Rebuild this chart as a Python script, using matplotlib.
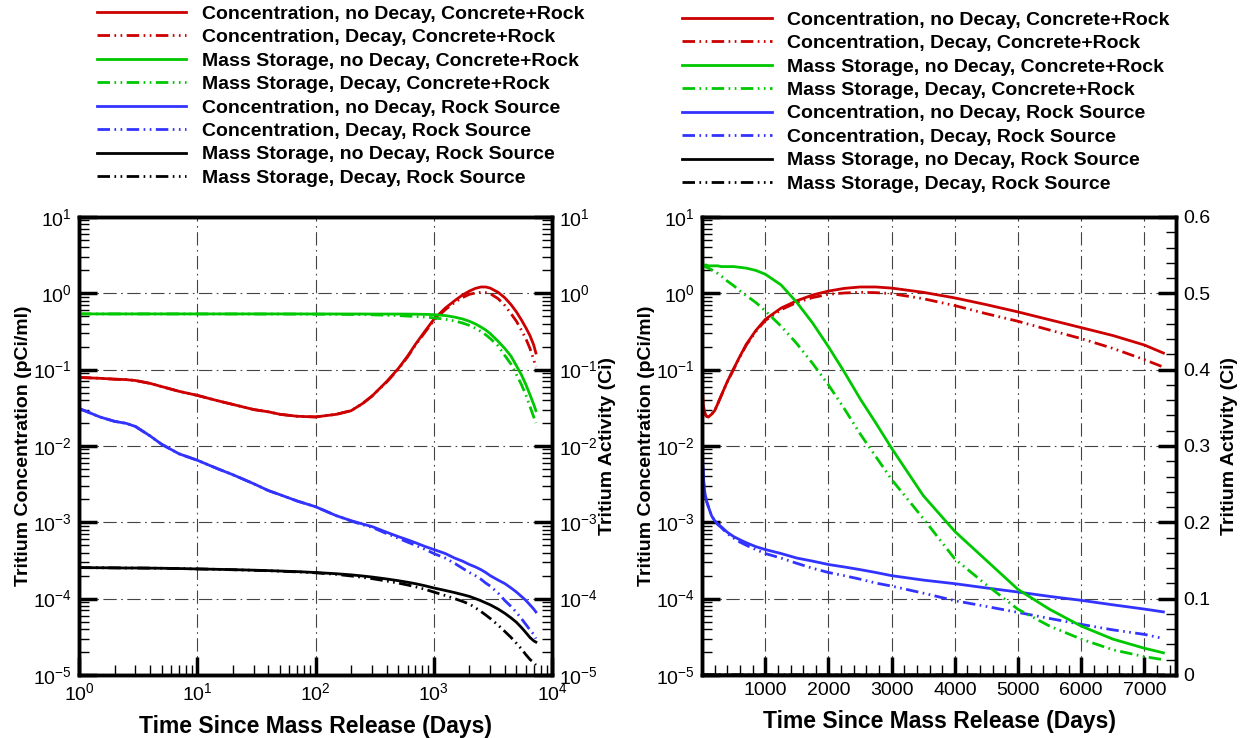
import numpy as np
import matplotlib.pyplot as plt
from matplotlib.lines import Line2D
from matplotlib.ticker import MultipleLocator, FixedLocator, NullFormatter

plt.rcParams['font.family'] = ['Liberation Sans', 'DejaVu Sans']
plt.rcParams['mathtext.fontset'] = 'custom'
plt.rcParams['mathtext.rm'] = 'Liberation Sans'
plt.rcParams['mathtext.default'] = 'regular'

# time since mass release (days)
days = [1, 1.5, 2, 2.5, 3, 4, 5, 7, 10, 15, 20, 30, 40, 50, 70, 100, 150, 200, 250, 300,
        400, 500, 600, 700, 850, 1000, 1250, 1500, 1750, 2000, 2250, 2500, 2750, 3000,
        3500, 4000, 4500, 5000, 5500, 6000, 6500, 7000, 7300]

# concentration, concrete+rock source (pCi/ml)
conc_nodecay_cr = [0.079, 0.077, 0.075, 0.074, 0.072, 0.066, 0.060, 0.052, 0.046, 0.039, 0.035,
                   0.030, 0.028, 0.026, 0.0245, 0.024, 0.026, 0.029, 0.036, 0.045,
                   0.07, 0.103, 0.15, 0.215, 0.325, 0.455, 0.64, 0.80, 0.95, 1.07, 1.16, 1.21,
                   1.21, 1.17, 1.03, 0.87, 0.71, 0.57, 0.45, 0.355, 0.28, 0.21, 0.165]
conc_decay_cr = [0.079, 0.077, 0.075, 0.074, 0.072, 0.066, 0.060, 0.052, 0.046, 0.039, 0.035,
                 0.030, 0.028, 0.026, 0.0245, 0.024, 0.026, 0.029, 0.036, 0.045,
                 0.069, 0.101, 0.147, 0.21, 0.315, 0.44, 0.61, 0.76, 0.88, 0.97, 1.01, 1.03,
                 1.02, 0.99, 0.85, 0.69, 0.54, 0.43, 0.33, 0.255, 0.19, 0.135, 0.108]

# mass storage, concrete+rock source (Ci)
mass_nodecay_cr = [0.537, 0.537, 0.537, 0.537, 0.537, 0.537, 0.537, 0.537, 0.537, 0.537, 0.537,
                   0.537, 0.537, 0.537, 0.537, 0.536, 0.536, 0.536, 0.536, 0.535,
                   0.535, 0.535, 0.534, 0.533, 0.530, 0.525, 0.511, 0.488, 0.461, 0.43, 0.397,
                   0.362, 0.33, 0.297, 0.235, 0.188, 0.15, 0.112, 0.086, 0.064, 0.047, 0.035,
                   0.029]
mass_decay_cr = [0.537, 0.537, 0.537, 0.537, 0.537, 0.537, 0.537, 0.537, 0.537, 0.536, 0.536,
                 0.536, 0.535, 0.535, 0.534, 0.533, 0.531, 0.528, 0.526, 0.523,
                 0.516, 0.51, 0.503, 0.497, 0.488, 0.477, 0.457, 0.434, 0.408, 0.38, 0.349,
                 0.316, 0.286, 0.256, 0.205, 0.152, 0.118, 0.086, 0.064, 0.047, 0.033, 0.024,
                 0.02]

# concentration, rock source (pCi/ml)
conc_nodecay_rock = [0.031, 0.024, 0.021, 0.0198, 0.018, 0.0135, 0.0105, 0.0079, 0.0065, 0.005,
                     0.0042, 0.0032, 0.0026, 0.0023, 0.0019, 0.0016, 0.00122, 0.00105, 0.00095,
                     0.00088, 0.00074, 0.00065, 0.00059, 0.00054, 0.00048, 0.00044, 0.00039,
                     0.00034, 0.00031, 0.00028, 0.00026, 0.00024, 0.00022, 0.0002, 0.000175,
                     0.000157, 0.000138, 0.000122, 0.000107, 0.000095, 0.000083, 0.000073,
                     0.000067]
conc_decay_rock = [0.031, 0.024, 0.021, 0.0198, 0.018, 0.0135, 0.0105, 0.0079, 0.0065, 0.005,
                   0.0042, 0.0032, 0.0026, 0.0023, 0.0019, 0.0016, 0.00122, 0.00104, 0.00093,
                   0.00086, 0.00071, 0.00062, 0.00055, 0.0005, 0.00044, 0.00039, 0.00034,
                   0.00029, 0.00025, 0.00022, 0.0002, 0.00018, 0.00016, 0.000146, 0.000118,
                   0.000094, 0.000079, 0.000066, 0.000055, 0.000046, 0.000039, 0.000034,
                   0.00003]

# mass storage, rock source (Ci)
mass_nodecay_rock = [2.55e-4, 2.54e-4, 2.53e-4, 2.52e-4, 2.52e-4, 2.51e-4, 2.5e-4, 2.48e-4,
                     2.45e-4, 2.42e-4, 2.4e-4, 2.36e-4, 2.33e-4, 2.3e-4, 2.26e-4, 2.2e-4,
                     2.12e-4, 2.05e-4, 1.98e-4, 1.92e-4, 1.81e-4, 1.72e-4, 1.64e-4, 1.57e-4,
                     1.47e-4, 1.38e-4, 1.28e-4, 1.2e-4, 1.13e-4, 1.07e-4, 1.0e-4, 9.4e-5,
                     8.8e-5, 8.3e-5, 7.3e-5, 6.4e-5, 5.6e-5, 4.9e-5, 4.2e-5, 3.6e-5, 3.1e-5,
                     2.8e-5, 2.7e-5]
mass_decay_rock = [2.55e-4, 2.54e-4, 2.53e-4, 2.52e-4, 2.52e-4, 2.51e-4, 2.5e-4, 2.48e-4,
                   2.45e-4, 2.42e-4, 2.39e-4, 2.35e-4, 2.32e-4, 2.29e-4, 2.24e-4, 2.18e-4,
                   2.08e-4, 1.98e-4, 1.9e-4, 1.83e-4, 1.7e-4, 1.6e-4, 1.51e-4, 1.43e-4,
                   1.32e-4, 1.22e-4, 1.1e-4, 1.0e-4, 9.2e-5, 8.5e-5, 7.6e-5, 6.8e-5, 6.1e-5,
                   5.5e-5, 4.5e-5, 3.7e-5, 3.1e-5, 2.6e-5, 2.2e-5, 1.85e-5, 1.6e-5, 1.45e-5,
                   1.35e-5]

labels = ['Concentration, no Decay, Concrete+Rock',
          'Concentration, Decay, Concrete+Rock',
          'Mass Storage, no Decay, Concrete+Rock',
          'Mass Storage, Decay, Concrete+Rock',
          'Concentration, no Decay, Rock Source',
          'Concentration, Decay, Rock Source',
          'Mass Storage, no Decay, Rock Source',
          'Mass Storage, Decay, Rock Source']

decades_y = [1e-5, 1e-4, 1e-3, 1e-2, 1e-1, 1e0, 1e1]
decades_x = [1e0, 1e1, 1e2, 1e3, 1e4]
lin_xticks = [1000, 2000, 3000, 4000, 5000, 6000, 7000]
activity_ticks = [0, 0.1, 0.2, 0.3, 0.4, 0.5, 0.6]
activity_ticklabels = ['0', '0.1', '0.2', '0.3', '0.4', '0.5', '0.6']

RED = '#CC0000'
GREEN = '#00C800'
BLUE = '#3333FF'
BLACK = '#000000'
SOLID = '-'
DDOT = (0, (4.5, 1.6, 0.6, 1.6, 0.6, 1.6))
LW = 2.0

conc_series = [(conc_nodecay_cr, RED, SOLID), (conc_decay_cr, RED, DDOT),
               (conc_nodecay_rock, BLUE, SOLID), (conc_decay_rock, BLUE, DDOT)]
mass_series = [(mass_nodecay_cr, GREEN, SOLID), (mass_decay_cr, GREEN, DDOT),
               (mass_nodecay_rock, BLACK, SOLID), (mass_decay_rock, BLACK, DDOT)]

grid_kw = dict(color='#444444', linestyle=(0, (12, 4, 1.5, 4)), linewidth=0.8)
XTITLE_FS = 16.5
YTITLE_FS = 14


def minor_logs(decades):
    return [k * d for d in decades[:-1] for k in range(2, 10)]


def style(ax, side):
    ax.tick_params(which='major', direction='in', length=13, width=2.5, labelsize=14, pad=5,
                   top=False, left=(side == 'left'), right=(side == 'right'))
    ax.tick_params(which='minor', direction='in', length=7, width=1,
                   top=False, left=(side == 'left'), right=(side == 'right'))
    for s in ax.spines.values():
        s.set_linewidth(2.5)


def log_y(ax):
    ax.set_yscale('log')
    ax.set_ylim(1e-5, 1e1)
    ax.yaxis.set_major_locator(FixedLocator(decades_y))
    ax.yaxis.set_minor_locator(FixedLocator(minor_logs(decades_y)))
    ax.yaxis.set_minor_formatter(NullFormatter())


fig = plt.figure(figsize=(12.47, 7.38), dpi=100)

# ---- left panel: log-log ----
axL = fig.add_axes([0.0634, 0.0854, 0.3793, 0.6206])
axL2 = axL.twinx()
for ys, c, ls in conc_series:
    axL.plot(days, ys, color=c, linestyle=ls, linewidth=LW)
for ys, c, ls in mass_series:
    axL2.plot(days, ys, color=c, linestyle=ls, linewidth=LW)
axL.set_xscale('log')
axL.set_xlim(1, 1e4)
axL.xaxis.set_major_locator(FixedLocator(decades_x))
axL.xaxis.set_minor_locator(FixedLocator(minor_logs(decades_x)))
axL.xaxis.set_minor_formatter(NullFormatter())
log_y(axL)
log_y(axL2)
axL.grid(True, which='major', **grid_kw)
style(axL, 'left')
style(axL2, 'right')
axL.set_xlabel('Time Since Mass Release (Days)', fontsize=XTITLE_FS, fontweight='bold', labelpad=8)
axL.set_ylabel('Tritium Concentration (pCi/ml)', fontsize=YTITLE_FS, fontweight='bold', labelpad=1)
axL2.set_ylabel('Tritium Activity (Ci)', fontsize=YTITLE_FS, fontweight='bold', labelpad=1)

# ---- right panel: linear time ----
axR = fig.add_axes([0.563, 0.0854, 0.3801, 0.6206])
axR2 = axR.twinx()
for ys, c, ls in conc_series:
    axR.plot(days, ys, color=c, linestyle=ls, linewidth=LW)
for ys, c, ls in mass_series:
    axR2.plot(days, ys, color=c, linestyle=ls, linewidth=LW)
axR.set_xlim(0, 7500)
axR.xaxis.set_major_locator(FixedLocator(lin_xticks))
axR.xaxis.set_minor_locator(MultipleLocator(200))
log_y(axR)
axR2.set_ylim(0, 0.6)
axR2.set_yticks(activity_ticks)
axR2.set_yticklabels(activity_ticklabels)
axR2.yaxis.set_minor_locator(MultipleLocator(0.02))
axR.grid(True, which='major', **grid_kw)
style(axR, 'left')
style(axR2, 'right')
axR.set_xlabel('Time Since Mass Release (Days)', fontsize=XTITLE_FS, fontweight='bold', labelpad=8)
axR.set_ylabel('Tritium Concentration (pCi/ml)', fontsize=YTITLE_FS, fontweight='bold', labelpad=1)
axR2.set_ylabel('Tritium Activity (Ci)', fontsize=YTITLE_FS, fontweight='bold', labelpad=8)

# ---- legends ----
styles = [(RED, SOLID), (RED, DDOT), (GREEN, SOLID), (GREEN, DDOT),
          (BLUE, SOLID), (BLUE, DDOT), (BLACK, SOLID), (BLACK, DDOT)]
handles = [Line2D([], [], color=c, linestyle=ls, linewidth=LW) for c, ls in styles]
leg_kw = dict(frameon=False, loc='upper left', handlelength=4.6,
              handletextpad=0.82, labelspacing=0.3, borderpad=0, borderaxespad=0,
              prop={'weight': 'bold', 'size': 14})
fig.legend(handles, labels, bbox_to_anchor=(0.0778, 0.993), **leg_kw)
fig.legend(handles, labels, bbox_to_anchor=(0.547, 0.985), **leg_kw)

fig.savefig('out.png', dpi=100)
